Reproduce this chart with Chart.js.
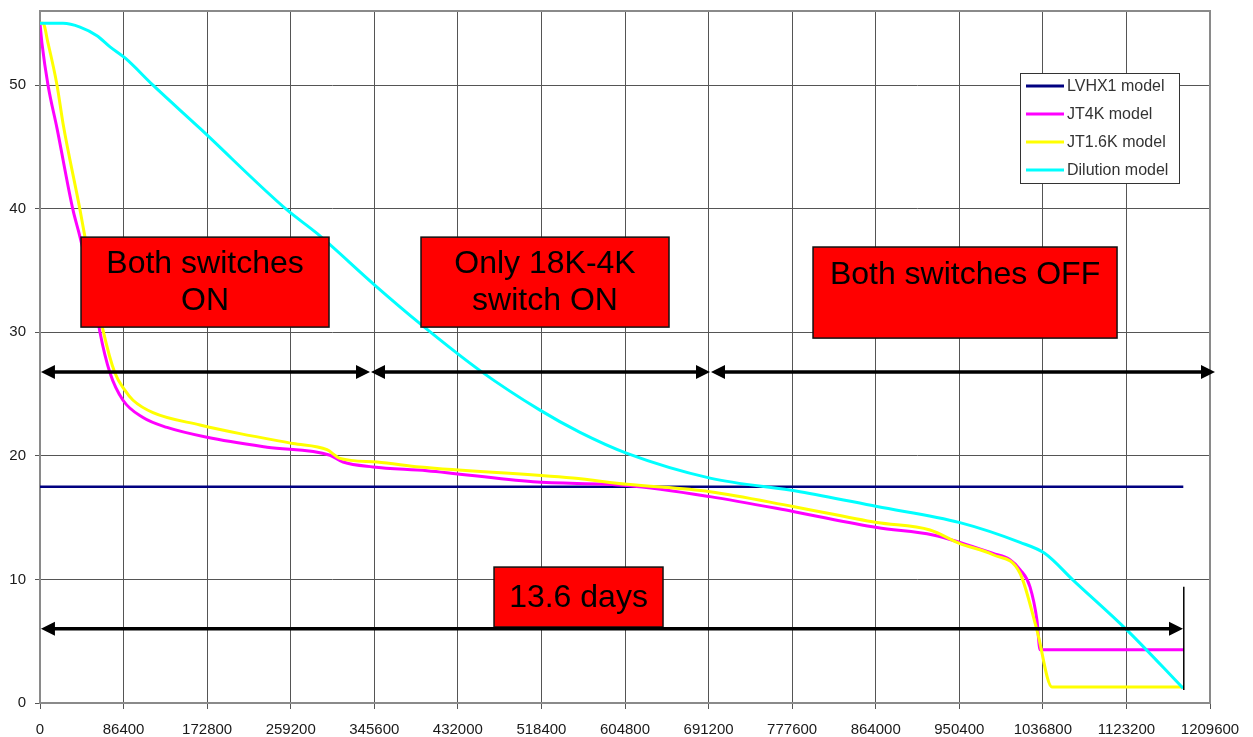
<!DOCTYPE html>
<html><head><meta charset="utf-8">
<script src="https://cdn.jsdelivr.net/npm/chart.js@4.4.1/dist/chart.umd.min.js"></script>
<style>html,body{margin:0;padding:0;background:#fff;}#wrap{width:1253px;height:737px;}</style>
</head><body><div id="wrap"><canvas id="c" width="1253" height="737"></canvas></div>
<script>
// ---- data (x in seconds, y value) ----
const xTickValues = [0,86400,172800,259200,345600,432000,518400,604800,691200,777600,864000,950400,1036800,1123200,1209600];
const yTickValues = [0,10,20,30,40,50];
const seriesNames = ["LVHX1 model","JT4K model","JT1.6K model","Dilution model"];
const lvhx1 = [[0,17.5],[1182000,17.5]];
const jt4k = [[0,55],[2000,53.4],[8300,50],[17600,46.5],[34100,39.9],[41400,37.7],[58900,31.5],[62000,30],[72400,26.7],[85800,24.5],[106500,23.1],[131300,22.3],[172700,21.5],[234700,20.7],[299800,20.05],[313300,19.5],[344300,19.1],[400000,18.8],[509700,17.9],[606900,17.6],[692700,16.7],[778500,15.5],[865300,14.2],[923200,13.6],[951100,13.0],[985300,12.1],[1002800,11.6],[1013200,10.8],[1023500,9.4],[1030700,6.7],[1033900,4.3],[1182000,4.3]];
const jt16k = [[0,55],[3100,55],[8300,53.4],[17600,50],[23800,46.9],[41400,39.9],[46500,37.7],[65100,30.2],[77500,26.7],[87900,25.3],[96200,24.5],[116800,23.5],[165400,22.5],[206800,21.8],[261600,21.0],[296700,20.5],[310200,19.8],[348400,19.5],[392900,19.1],[551000,18.2],[606900,17.7],[692700,17.1],[778500,15.9],[865300,14.6],[920100,14.0],[951100,12.9],[985300,12.0],[1013200,10.5],[1030700,5.9],[1046200,1.3],[1182000,1.3]];
const dilution = [[0,55.0],[23800,55.0],[41400,54.7],[58900,54.0],[72400,53.1],[87900,52.2],[116800,50.0],[165400,46.5],[255400,39.9],[286400,38.0],[346300,33.8],[392900,30.7],[454900,26.9],[516900,23.7],[558300,21.9],[606900,20.2],[692700,18.2],[785700,17.1],[865300,15.9],[951100,14.6],[1013200,13.0],[1039000,12.1],[1068000,9.95],[1123800,5.9],[1181700,1.2]];
const seriesColors = ["#000080","#FF00FF","#FFFF00","#00FFFF"];

// ---- annotations (in data units) ----
const boxes = [
  {x0:42400, x1:298800, y0:37.7, y1:30.42, lines:["Both switches","ON"]},
  {x0:393900, x1:650300, y0:37.7, y1:30.42, lines:["Only 18K-4K","switch ON"]},
  {x0:799200, x1:1113500, y0:36.9, y1:29.53, lines:["Both switches OFF",""]},
  {x0:469400, x1:644100, y0:11.0, y1:6.15, lines:["13.6 days"]}
];
const arrows = [
  {x0:1000, x1:341200, y:26.78},
  {x0:342200, x1:692700, y:26.78},
  {x0:693700, x1:1214800, y:26.78},
  {x0:1000, x1:1181700, y:6.0}
];
const endMarker = {x:1182500, y0:9.4, y1:1.05};

const FONT = "'Liberation Sans', Arial, sans-serif";

const toXY = arr => arr.map(([x,y]) => ({x, y}));

const annotPlugin = {
  id:'annot',
  beforeDatasetsDraw(chart){
    const {ctx, chartArea:a} = chart;
    ctx.save();
    ctx.strokeStyle = '#8a8a8a';
    ctx.lineWidth = 2;
    ctx.strokeRect(a.left, a.top, a.right - a.left, a.bottom - a.top);
    ctx.restore();
  },
  afterDatasetsDraw(chart){
    const {ctx} = chart;
    const xs = chart.scales.x, ys = chart.scales.y;
    ctx.save();
    boxes.forEach(b => {
      const x0 = xs.getPixelForValue(b.x0), x1 = xs.getPixelForValue(b.x1);
      const y0 = ys.getPixelForValue(b.y0), y1 = ys.getPixelForValue(b.y1);
      ctx.fillStyle = '#FF0000';
      ctx.fillRect(x0, y0, x1 - x0, y1 - y0);
      ctx.strokeStyle = '#111';
      ctx.lineWidth = 1.5;
      ctx.strokeRect(x0, y0, x1 - x0, y1 - y0);
      ctx.fillStyle = '#000';
      ctx.font = '32px ' + FONT;
      ctx.textAlign = 'center';
      ctx.textBaseline = 'middle';
      const lh = 37, cx = (x0 + x1) / 2, cy = (y0 + y1) / 2;
      const n = b.lines.length;
      b.lines.forEach((t, i) => {
        ctx.fillText(t, cx, cy + (i - (n - 1) / 2) * lh + 1);
      });
    });
    ctx.fillStyle = '#000';
    ctx.strokeStyle = '#000';
    arrows.forEach(ar => {
      const y = ys.getPixelForValue(ar.y);
      const x0 = xs.getPixelForValue(ar.x0), x1 = xs.getPixelForValue(ar.x1);
      const hl = 14, hw = 7;
      ctx.lineWidth = 3.5;
      ctx.beginPath();
      ctx.moveTo(x0 + hl - 1, y); ctx.lineTo(x1 - hl + 1, y); ctx.stroke();
      ctx.beginPath();
      ctx.moveTo(x0, y); ctx.lineTo(x0 + hl, y - hw); ctx.lineTo(x0 + hl, y + hw); ctx.closePath(); ctx.fill();
      ctx.beginPath();
      ctx.moveTo(x1, y); ctx.lineTo(x1 - hl, y - hw); ctx.lineTo(x1 - hl, y + hw); ctx.closePath(); ctx.fill();
    });
    const ex = xs.getPixelForValue(endMarker.x);
    ctx.lineWidth = 1.5;
    ctx.beginPath();
    ctx.moveTo(ex, ys.getPixelForValue(endMarker.y0));
    ctx.lineTo(ex, ys.getPixelForValue(endMarker.y1));
    ctx.stroke();
    ctx.restore();
  },
  afterDraw(chart){
    const {ctx, chartArea:a} = chart;
    const lx1 = a.right - 31, lx0 = lx1 - 159, ly0 = a.top + 62, ly1 = ly0 + 110;
    ctx.save();
    ctx.fillStyle = '#fff';
    ctx.fillRect(lx0, ly0, lx1 - lx0, ly1 - ly0);
    ctx.strokeStyle = '#333';
    ctx.lineWidth = 1;
    ctx.strokeRect(lx0 + 0.5, ly0 + 0.5, lx1 - lx0, ly1 - ly0);
    chart.data.datasets.forEach((ds, i) => {
      const y = ly0 + 13 + i * 28;
      ctx.strokeStyle = ds.borderColor;
      ctx.lineWidth = 3;
      ctx.beginPath(); ctx.moveTo(lx0 + 6, y); ctx.lineTo(lx0 + 44, y); ctx.stroke();
      ctx.fillStyle = '#333';
      ctx.font = '16px ' + FONT;
      ctx.textAlign = 'left';
      ctx.textBaseline = 'middle';
      ctx.fillText(ds.label, lx0 + 47, y + 1);
    });
    ctx.restore();
  }
};

const sets = [lvhx1, jt4k, jt16k, dilution];
new Chart(document.getElementById('c'), {
  type:'line',
  data:{
    datasets: sets.map((s, i) => ({
      label: seriesNames[i],
      data: toXY(s),
      borderColor: seriesColors[i],
      backgroundColor: seriesColors[i],
      borderWidth: i === 0 ? 2.5 : 3,
      pointRadius: 0,
      fill: false,
      cubicInterpolationMode: 'monotone',
      order: 4 - i
    }))
  },
  options:{
    responsive:false,
    devicePixelRatio:1,
    animation:false,
    layout:{padding:{left:0, right:43, top:11, bottom:0}},
    plugins:{legend:{display:false}, tooltip:{enabled:false}},
    scales:{
      x:{
        type:'linear', min:0, max:1209600,
        afterBuildTicks: s => { s.ticks = xTickValues.map(v => ({value:v})); },
        afterFit: s => { s.height = 34; s.paddingLeft = 0; s.paddingRight = 0; },
        grid:{color:'#555', lineWidth:1, tickLength:6, tickColor:'#555'},
        border:{display:false},
        ticks:{autoSkip:false, maxRotation:0, padding:12, color:'#1a1a1a', font:{family:FONT, size:15}, callback: v => String(v)}
      },
      y:{
        type:'linear', min:0, max:56,
        afterBuildTicks: s => { s.ticks = yTickValues.map(v => ({value:v})); },
        afterFit: s => { s.width = 40; s.paddingTop = 0; s.paddingBottom = 0; },
        grid:{color:'#555', lineWidth:1, tickLength:5, tickColor:'#555'},
        border:{display:false},
        ticks:{padding:9, color:'#1a1a1a', font:{family:FONT, size:15}, callback: v => String(v)}
      }
    }
  },
  plugins:[annotPlugin]
});
</script></body></html>
